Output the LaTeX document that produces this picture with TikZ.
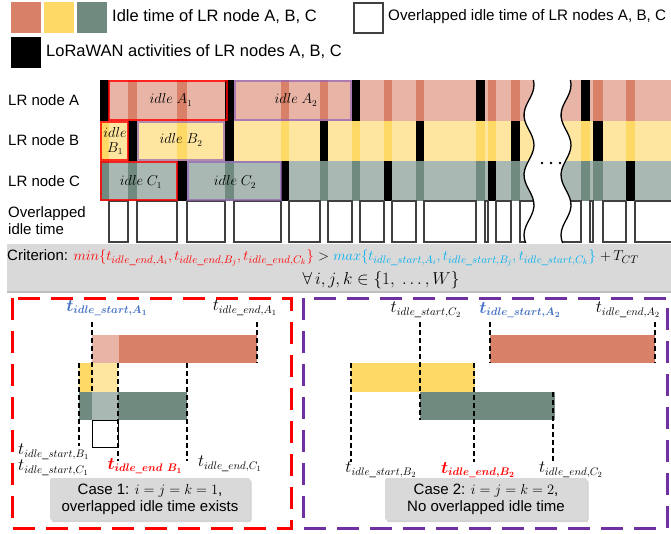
\documentclass[tikz,border=0pt]{standalone}
\usepackage{amsmath}
\usepackage[no-math]{fontspec}
\setmainfont{Liberation Sans}
\usepackage{tikz}
\usetikzlibrary{shadows}
\definecolor{lrorange}{HTML}{D98068}
\definecolor{lrorangel}{HTML}{E8B4A6}
\definecolor{lryellow}{HTML}{FFD966}
\definecolor{lryellowl}{HTML}{FFE6A0}
\definecolor{lrgreen}{HTML}{718A80}
\definecolor{lrgreenl}{HTML}{A9B8B3}
\definecolor{lrred}{HTML}{FF0000}
\definecolor{lrpurple}{HTML}{7030A0}
\definecolor{lrblue}{HTML}{4472C4}
\definecolor{lrcyan}{HTML}{00B0F0}
\definecolor{lrgray}{HTML}{D9D9D9}
\newcommand{\tid}[2]{t_{idle\_#1,#2}}

\begin{document}
\begin{tikzpicture}[x=1pt, y=-1pt,
  legendtext/.style={anchor=west, font=\fontsize{16.5}{18}\selectfont, inner sep=0pt},
  rowlabel/.style={anchor=west, font=\fontsize{15}{17}\selectfont, align=left, inner sep=0pt},
  idlelabel/.style={font=\fontsize{13.5}{14}\selectfont, align=center, inner sep=0pt},
  gapbox/.style={draw=black!75, line width=1.1pt, fill=white},
  redframe/.style={draw=lrred, line width=2.5pt, opacity=0.8},
  purpleframe/.style={draw=lrpurple!75, line width=2.5pt, opacity=0.7},
  wavyline/.style={line width=1.3pt},
  crittext/.style={anchor=west, font=\fontsize{15}{17}\selectfont, inner sep=0pt},
  caseframe/.style={dash pattern=on 22pt off 11pt, line width=3pt},
  guide/.style={dash pattern=on 5pt off 3pt, line width=1.7pt},
  tlabel/.style={font=\fontsize{16}{18}\selectfont, inner sep=0pt},
  casebox/.style={fill=lrgray, rounded corners=2pt, align=center, inner sep=0pt,
    font=\fontsize{15}{17}\selectfont,
    drop shadow={shadow xshift=1.5pt, shadow yshift=-2pt, opacity=0.35}}
]
\useasboundingbox (0,0) rectangle (671,533);

\fill[lrorange] (11,2) rectangle (41,33);
\fill[lryellow] (44,2) rectangle (74,33);
\fill[lrgreen] (77,2) rectangle (107,33);
\node[legendtext] (lgidle) at (112,17) {Idle time of LR node A, B, C};
\draw[black!75, line width=1.3pt, fill=white] (354,3) rectangle (383,33);
\node[legendtext, font=\fontsize{15.2}{18}\selectfont] (lggap) at (388,17) {Overlapped idle time of LR nodes A, B, C};
\fill[black] (11,37) rectangle (41,68);
\node[legendtext] (lgact) at (46,52) {LoRaWAN activities of LR nodes A, B, C};

\fill[lrorangel] (100,80) rectangle (672,121);
\fill[lryellowl] (100,121) rectangle (672,161);
\fill[lrgreenl] (100,161) rectangle (672,201);
\foreach \xa/\xb/\fa/\fb/\fc in {100/109/black/lryellow/lrgreen,
    128/137/lrorange/black/lrgreen, 177/187/lrorange/lryellow/black,
    225/234/black/black/lrgreen, 281/289/lrorange/lryellow/black,
    320/328/lrorange/black/lrgreen, 352/360/black/lryellow/lrgreen,
    384/392/lrorange/lryellow/black, 416/424/lrorange/black/lrgreen,
    476/485/black/lryellow/lrgreen, 488/496/lrorange/lryellow/black,
    511/520/lrorange/black/lrgreen, 581/590/black/lryellow/lrgreen,
    593/603/lrorange/black/lrgreen, 626/635/lrorange/lryellow/black}{
  \fill[\fa] (\xa,80) rectangle (\xb,121);
  \fill[\fb] (\xa,121) rectangle (\xb,161);
  \fill[\fc] (\xa,161) rectangle (\xb,201);
}
\foreach \xa/\xb in {109/128, 137/177, 187/225, 234/281, 289/320, 328/352,
    360/384, 392/416, 424/476, 485/488, 496/511, 520/540, 555/581,
    590/593, 603/626, 635/673}
  \draw[gapbox] (\xa,201) rectangle (\xb,242);

\draw[redframe] (109,81) rectangle (227,120);
\draw[redframe] (101,122) rectangle (128,160);
\draw[redframe] (101,162) rectangle (177,200);
\draw[purpleframe] (235,81) rectangle (351,120);
\draw[purpleframe] (138,122) rectangle (224,160);
\draw[purpleframe] (188,162) rectangle (281,200);
\node[idlelabel] (idA1) at (171,100) {$idle\ A_1$};
\node[idlelabel] (idA2) at (296,100) {$idle\ A_2$};
\node[idlelabel] (idB1) at (115,141) {$idle$\\[1pt]$B_1$};
\node[idlelabel] (idB2) at (181,140) {$idle\ B_2$};
\node[idlelabel] (idC1) at (141,182) {$idle\ C_1$};
\node[idlelabel] (idC2) at (235,182) {$idle\ C_2$};

\fill[white] plot[smooth, domain=79:243, samples=41] ({529+5*sin(6*(\x-80)+60)},\x)
  -- plot[smooth, domain=243:79, samples=41] ({566+5*sin(6*(\x-80)+60)},\x) -- cycle;
\draw[wavyline] plot[smooth, domain=80:243, samples=41] ({529+5*sin(6*(\x-80)+60)},\x);
\draw[wavyline] plot[smooth, domain=80:243, samples=41] ({566+5*sin(6*(\x-80)+60)},\x);
\foreach \xd in {542,551,560}
  \fill (\xd,163) circle (1.4pt);

\node[rowlabel] (rowA) at (8,100) {LR node A};
\node[rowlabel] (rowB) at (8,140) {LR node B};
\node[rowlabel] (rowC) at (8,181) {LR node C};
\node[rowlabel] (rowgap) at (8,221) {Overlapped\\idle time};

\path[fill=lrgray, drop shadow={shadow xshift=0pt, shadow yshift=-1.5pt, opacity=0.5}]
  (7,244) rectangle (673,291);
\node[crittext] (crit) at (7,258) {Criterion: {\fontsize{15.5}{18}\selectfont
  \textcolor{lrred}{$min\{\tid{end}{A_i}, \tid{end}{B_j}, \tid{end}{C_k}\}$}
  $>$ \textcolor{lrcyan}{$max\{\tid{start}{A_i}, \tid{start}{B_j}, \tid{start}{C_k}\}$} $+\,T_{CT}$}};
\node[crittext, anchor=center, font=\fontsize{16}{18}\selectfont] (critall) at (381,280) {$\forall\, i, j, k \in \{1,\ \ldots, W\}$};

\draw[caseframe, lrred] (12,298) rectangle (291,528);
\draw[caseframe, lrpurple] (303,298) rectangle (667,528);

\fill[lrorangel] (92,335) rectangle (119,363);
\fill[lrorange] (119,335) rectangle (257,363);
\fill[lryellow] (79,363) rectangle (92,392);
\fill[lryellowl] (92,363) rectangle (118,392);
\fill[lrgreen] (79,392) rectangle (92,420);
\fill[lrgreenl] (92,392) rectangle (118,420);
\fill[lrgreen] (118,392) rectangle (187,420);
\draw[black, line width=1pt, fill=white] (92,420) rectangle (118,447);
\draw[guide] (92,322) -- (92,392);
\draw[guide] (257,322) -- (257,363);
\draw[guide] (79,363) -- (79,446);
\draw[guide] (118,363) -- (118,461);
\draw[guide] (187,363) -- (187,461);
\node[tlabel, lrblue] (sA1) at (107,308) {$\boldsymbol{\tid{start}{A_1}}$};
\node[tlabel] (eA1) at (245,308) {$\tid{end}{A_1}$};
\node[tlabel, anchor=west] (sB1) at (18,452) {$\tid{start}{B_1}$};
\node[tlabel, anchor=west] (sC1) at (18,468) {$\tid{start}{C_1}$};
\node[tlabel, lrred] (eB1) at (145,466) {$\boldsymbol{t_{idle\_end\ B_1}}$};
\node[tlabel] (eC1) at (230,464) {$\tid{end}{C_1}$};
\node[casebox, minimum width=200pt, minimum height=42pt] (case1) at (150,499)
  {Case 1: $i = j = k = 1$,\\overlapped idle time exists};

\fill[lrorange] (490,335) rectangle (655,363);
\fill[lryellow] (351,363) rectangle (475,392);
\fill[lrgreen] (420,392) rectangle (555,420);
\draw[guide] (490,322) -- (490,363);
\draw[guide] (655,322) -- (655,363);
\draw[guide] (420,322) -- (420,420);
\draw[guide] (351,363) -- (351,462);
\draw[guide] (474,363) -- (474,462);
\draw[guide] (553,392) -- (553,462);
\node[tlabel] (sC2) at (426,310) {$\tid{start}{C_2}$};
\node[tlabel, lrblue] (sA2) at (520,310) {$\boldsymbol{\tid{start}{A_2}}$};
\node[tlabel] (eA2) at (628,310) {$\tid{end}{A_2}$};
\node[tlabel] (sB2) at (381,470) {$\tid{start}{B_2}$};
\node[tlabel, lrred] (eB2) at (478,470) {$\boldsymbol{\tid{end}{B_2}}$};
\node[tlabel] (eC2) at (571,470) {$\tid{end}{C_2}$};
\node[casebox, minimum width=202pt, minimum height=42pt] (case2) at (486,499)
  {Case 2: $i = j = k = 2$,\\No overlapped idle time};
\end{tikzpicture}
\end{document}
